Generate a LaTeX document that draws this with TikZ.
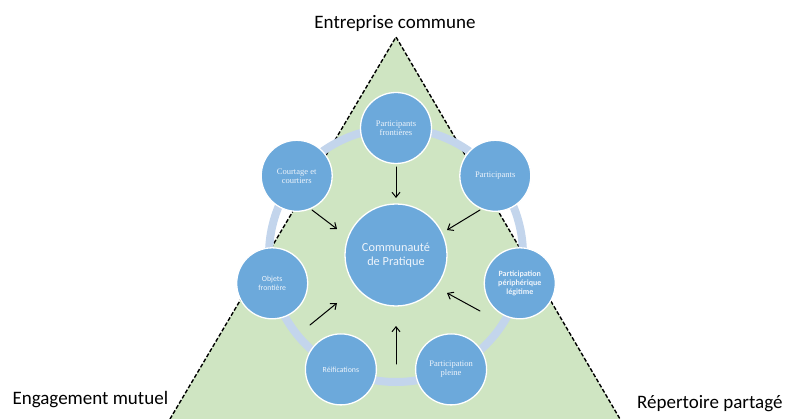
\documentclass[tikz,border=0pt]{standalone}
\usepackage{fontspec}
\setmainfont{Liberation Serif}
\newfontfamily\carlito{Carlito}
\usetikzlibrary{arrows.meta}
\definecolor{cpgreen}{HTML}{CFE5C2}
\definecolor{cpblue}{HTML}{6CA9DB}
\definecolor{cpring}{HTML}{C3D5EC}
\definecolor{cptext}{HTML}{EEF4FB}

\begin{document}
\begin{tikzpicture}[x=1pt,y=-1pt,>={Straight Barb[length=5pt,width=8pt]},line cap=round,
  sat/.style={circle,fill=cpblue,draw=white,line width=1.3pt,minimum size=71pt,inner sep=0pt,align=center,text=cptext},
  serif/.style={font=\fontsize{8.5}{9}\selectfont},
  sans/.style={font=\carlito\fontsize{7.8}{8.6}\selectfont},
  corner/.style={font=\carlito\fontsize{19}{22}\selectfont,anchor=base},
  link/.style={->,line width=1pt}]
\useasboundingbox (0,0) rectangle (789,419);
\fill[cpgreen] (396,37) -- (170,419) -- (620,419) -- cycle;
\draw[line cap=butt,dash pattern=on 4pt off 2pt,line width=1.4pt] (170,419) -- (396,37) -- (620,419);
\node[corner] (ec) at (395,29) {Entreprise commune};
\node[corner,anchor=base west] (em) at (9,404) {Engagement mutuel};
\node[corner,anchor=base east] (rp) at (786,408) {Répertoire partagé};
\draw[cpring,line width=8pt] (396,255) circle (127);
\node[sat,minimum size=102pt,font=\carlito\fontsize{12.3}{14}\selectfont] (cp) at (396,255) {Communauté\\de Pratique};
\node[sat,serif] (pf) at (396,128) {Participants\\frontières};
\node[sat,serif] (cc) at (296.7,175.8) {Courtage et\\courtiers};
\node[sat,sans] (of) at (272.2,283.3) {Objets\\frontière};
\node[sat,sans] (re) at (340.9,369.4) {Réifications};
\node[sat,serif] (pp) at (451.1,369.4) {Participation\\pleine};
\node[sat,sans,font=\carlito\bfseries\fontsize{8}{9.2}\selectfont] (pl) at (519.8,283.3) {Participation\\périphérique\\légitime};
\node[sat,serif] (pa) at (495.3,175.8) {Participants};
\coordinate (pf-out) at (396,167);
\coordinate (cc-out) at (312,210);
\coordinate (pa-out) at (480,210);
\coordinate (of-out) at (310,325);
\coordinate (re-out) at (396,364);
\coordinate (pl-out) at (480,311);
\coordinate (cp-n) at (396,198);
\coordinate (cp-nw) at (337,229);
\coordinate (cp-ne) at (447,230);
\coordinate (cp-sw) at (337,303);
\coordinate (cp-s) at (396,326);
\coordinate (cp-se) at (447,293);
\draw[link] (pf-out) -- (cp-n);
\draw[link] (cc-out) -- (cp-nw);
\draw[link] (pa-out) -- (cp-ne);
\draw[link] (of-out) -- (cp-sw);
\draw[link] (re-out) -- (cp-s);
\draw[link] (pl-out) -- (cp-se);
\end{tikzpicture}
\end{document}
